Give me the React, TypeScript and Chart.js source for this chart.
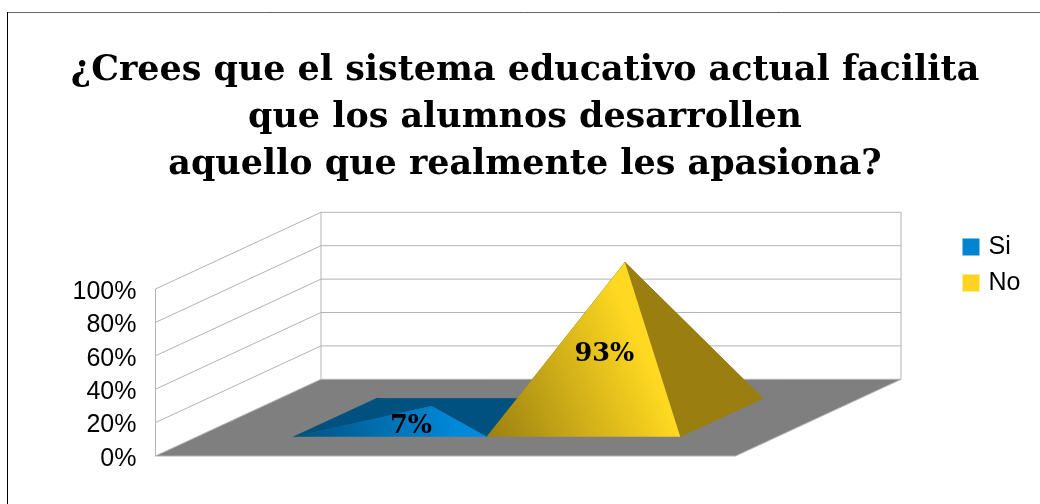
import React, { useEffect, useRef } from "react";
import { Chart, registerables } from "chart.js";

Chart.register(...registerables);

const titleLines = [
  "¿Crees que el sistema educativo actual facilita",
  "que los alumnos desarrollen",
  "aquello que realmente les apasiona?",
];
const categories = [""];
const seriesNames = ["Si", "No"];
const siValues = [7];
const noValues = [93];
const seriesColors = ["#0084d1", "#ffd320"];
const darkColors = ["#00517f", "#9a7f10"];
const brightColors = ["#0089da", "#ffd921"];

const DEPTH_X = 165.5;
const DEPTH_Y = -76.7;
const SERIF = '"DejaVu Serif", serif';
const SANS = '"Liberation Sans", sans-serif';

function poly(ctx: CanvasRenderingContext2D, pts: number[][], fill: any, edge?: string) {
  ctx.beginPath();
  pts.forEach((p, i) => (i ? ctx.lineTo(p[0], p[1]) : ctx.moveTo(p[0], p[1])));
  ctx.closePath();
  ctx.fillStyle = fill;
  ctx.fill();
  if (edge) {
    ctx.strokeStyle = edge;
    ctx.lineWidth = 0.6;
    ctx.stroke();
  }
}

const pyramid3d = {
  id: "pyramid3d",
  afterLayout(chart: any) {
    const legend = chart.legend;
    const h = legend.bottom - legend.top;
    const w = legend.right - legend.left;
    legend.top = 223.5;
    legend.bottom = 223.5 + h;
    legend.left = 955;
    legend.right = 955 + w;
  },
  beforeDraw(chart: any) {
    const ctx = chart.ctx as CanvasRenderingContext2D;
    ctx.save();
    ctx.fillStyle = "#ffffff";
    ctx.fillRect(0, 0, chart.width, chart.height);
    ctx.lineWidth = 1;
    ctx.strokeStyle = "#666666";
    ctx.beginPath();
    ctx.moveTo(7, 12.5);
    ctx.lineTo(chart.width, 12.5);
    ctx.stroke();
    ctx.strokeStyle = "#000000";
    ctx.beginPath();
    ctx.moveTo(7.5, chart.height);
    ctx.lineTo(7.5, 12);
    ctx.stroke();
    ctx.restore();
  },
  beforeDatasetsDraw(chart: any) {
    const ctx = chart.ctx as CanvasRenderingContext2D;
    const { left: L, right: R } = chart.chartArea;
    const yScale = chart.scales.y;
    const B = yScale.getPixelForValue(0);
    const T = yScale.getPixelForValue(100);
    ctx.save();
    poly(
      ctx,
      [
        [L, B],
        [L + DEPTH_X, B + DEPTH_Y],
        [R + DEPTH_X, B + DEPTH_Y],
        [R, B],
      ],
      "#7f7f7f"
    );
    ctx.strokeStyle = "#b3b3b3";
    ctx.lineWidth = 1;
    ctx.beginPath();
    yScale.ticks.forEach((t: any) => {
      const y = yScale.getPixelForValue(t.value);
      ctx.moveTo(L, y);
      ctx.lineTo(L + DEPTH_X, y + DEPTH_Y);
      ctx.lineTo(R + DEPTH_X, y + DEPTH_Y);
    });
    ctx.moveTo(L, B);
    ctx.lineTo(R, B);
    ctx.lineTo(R + DEPTH_X, B + DEPTH_Y);
    ctx.moveTo(L, B);
    ctx.lineTo(L, T);
    ctx.moveTo(L + DEPTH_X, B + DEPTH_Y);
    ctx.lineTo(L + DEPTH_X, T + DEPTH_Y);
    ctx.moveTo(R + DEPTH_X, B + DEPTH_Y);
    ctx.lineTo(R + DEPTH_X, T + DEPTH_Y);
    ctx.stroke();

    const labels: any[] = [];
    chart.data.datasets.forEach((ds: any, i: number) => {
      const bar = chart.getDatasetMeta(i).data[0];
      const half = bar.width / 2;
      const fx = DEPTH_X * 0.25;
      const fy = DEPTH_Y * 0.25;
      const bx = DEPTH_X * 0.75;
      const by = DEPTH_Y * 0.75;
      const base = bar.base;
      const FL = [bar.x - half + fx, base + fy];
      const FR = [bar.x + half + fx, base + fy];
      const BL = [bar.x - half + bx, base + by];
      const BR = [bar.x + half + bx, base + by];
      const apex = [bar.x + DEPTH_X / 2, bar.y + DEPTH_Y / 2];
      const dark = darkColors[i];
      poly(ctx, [BL, BR, apex], dark, dark);
      poly(ctx, [FL, BL, apex], dark, dark);
      poly(ctx, [FR, BR, apex], dark, dark);
      const g = ctx.createLinearGradient(
        FL[0],
        FL[1],
        FL[0] + (FR[0] - FL[0]) * 0.85,
        FL[1] - (FL[1] - apex[1]) * 0.4
      );
      g.addColorStop(0, dark);
      g.addColorStop(1, brightColors[i]);
      poly(ctx, [FL, FR, apex], g);
      labels.push({
        text: ds.data[0] + "%",
        x: (FL[0] + FR[0] + 2 * apex[0]) / 4,
        y: (FL[1] + apex[1]) / 2 + 5,
      });
    });
    ctx.fillStyle = "#000000";
    ctx.font = `bold 25.5px ${SERIF}`;
    ctx.textAlign = "center";
    ctx.textBaseline = "middle";
    labels.forEach((l) => ctx.fillText(l.text, l.x, l.y));
    ctx.restore();
    return false;
  },
};

export default function App() {
  const ref = useRef<HTMLCanvasElement>(null);
  useEffect(() => {
    const chart = new Chart(ref.current as HTMLCanvasElement, {
      type: "bar",
      data: {
        labels: categories,
        datasets: [
          { label: seriesNames[0], data: siValues, backgroundColor: seriesColors[0], borderColor: seriesColors[0], borderWidth: 7 },
          { label: seriesNames[1], data: noValues, backgroundColor: seriesColors[1], borderColor: seriesColors[1], borderWidth: 7 },
        ],
      },
      plugins: [pyramid3d],
      options: {
        responsive: false,
        animation: false,
        devicePixelRatio: 1,
        layout: { padding: { left: 10, right: 0, top: 20, bottom: 48 } },
        datasets: { bar: { categoryPercentage: 2 / 3, barPercentage: 1 } },
        plugins: {
          tooltip: { enabled: false },
          title: {
            display: true,
            text: titleLines,
            color: "#000000",
            font: { family: SERIF, weight: "bold", size: 34.9, lineHeight: 1.35 },
            padding: { top: 27, bottom: 100.65 },
          },
          legend: {
            position: "right",
            align: "start",
            labels: {
              boxWidth: 10,
              boxHeight: 10,
              padding: 11,
              color: "#000000",
              font: { family: SANS, size: 25 },
            },
          },
        },
        scales: {
          x: { display: false, grid: { display: false } },
          y: {
            min: 0,
            max: 100,
            ticks: {
              stepSize: 20,
              padding: 19,
              labelOffset: 3,
              color: "#000000",
              font: { family: SANS, size: 25 },
              callback: (v: any) => v + "%",
            },
            grid: { display: false, drawTicks: false },
            border: { display: false },
            afterFit: (s: any) => {
              s.width = 145.5;
            },
          },
          spacer: {
            position: "right",
            min: 0,
            max: 1,
            ticks: { display: false },
            grid: { display: false, drawTicks: false },
            border: { display: false },
            afterFit: (s: any) => {
              s.width = 229;
            },
          },
        },
      },
    } as any);
    return () => chart.destroy();
  }, []);
  return (
    <div style={{ position: "fixed", left: 0, top: 0, width: 1040, height: 504 }}>
      <canvas ref={ref} width={1040} height={504} style={{ display: "block" }} />
    </div>
  );
}
